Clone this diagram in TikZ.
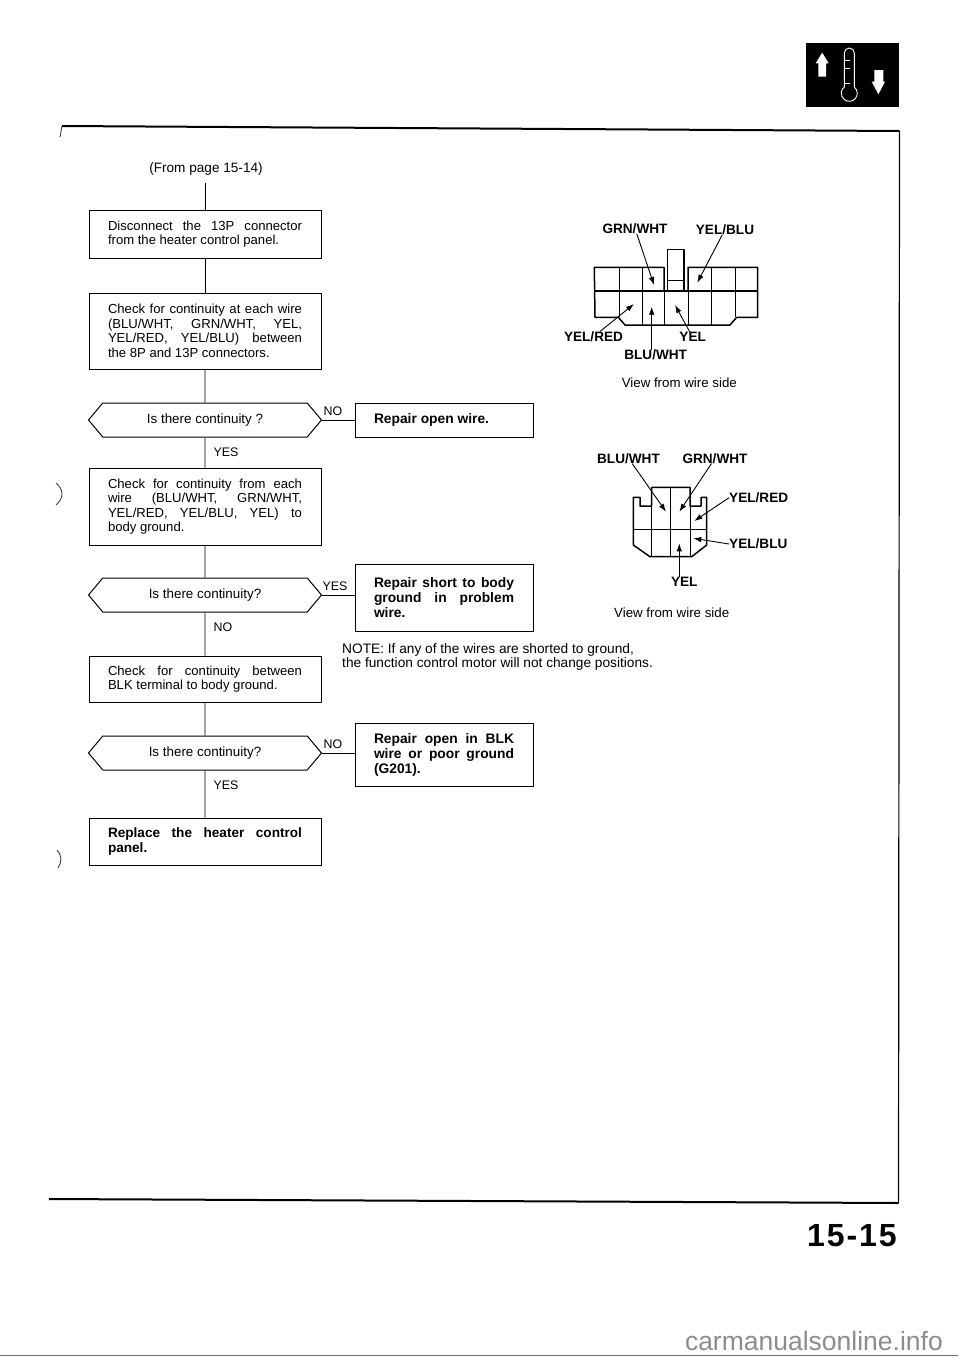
\documentclass[tikz,border=0pt]{standalone}
\usepackage{fontspec}
\setmainfont{Liberation Sans}
\usetikzlibrary{shapes.symbols,arrows.meta}
\tikzset{
  stepbox/.style={draw, line width=1pt, minimum width=232pt, text width=194pt, align=justify, inner sep=0pt, font=\fontsize{13.1}{14.5}\selectfont},
  fixbox/.style={draw, line width=1pt, minimum width=178pt, text width=140pt, align=justify, inner sep=0pt, font=\fontsize{13.8}{15}\selectfont\bfseries},
  decision/.style={draw, line width=1pt, shape=signal, signal to=east and west, signal pointer angle=100, minimum width=233pt, minimum height=34pt, inner sep=0pt, font=\fontsize{13.4}{14}\selectfont},
  answer/.style={inner sep=0pt, font=\fontsize{12.4}{14}\selectfont},
  wirelabel/.style={inner sep=0pt, font=\fontsize{13.6}{14}\selectfont\bfseries},
  viewlabel/.style={inner sep=0pt, font=\fontsize{13.3}{14}\selectfont},
  flow/.style={line width=0.8pt},
  housing/.style={line width=1.5pt, line join=round},
  cavity/.style={line width=0.9pt},
  pinarrow/.style={line width=0.9pt, -{Latex[length=8pt,width=5.5pt]}},
  smudge/.style={line width=0.9pt, black!75}
}
\begin{document}
\begin{tikzpicture}[x=1pt,y=-1pt]
  \useasboundingbox (0,0) rectangle (960,1358);
  % page frame
  \draw[line width=2pt] (62,126) -- (899.5,131);
  \draw[line width=1.2pt] (899.5,131) -- (898.5,1203);
  \draw[line width=2pt] (49,1199) -- (898.5,1203);
  \draw[smudge] (62,126) .. controls (61,130) and (61,133) .. (60,137);
  \draw[smudge] (56,483) .. controls (64,490) and (64,498) .. (56,505);
  \draw[smudge] (57,850) .. controls (62,855) and (62,862) .. (58,868);
  % flow chart
  \node[font=\fontsize{13.6}{14}\selectfont] (source) at (206,168.5) {(From page 15-14)};
  \coordinate (start) at (205,183);
  \node[stepbox, minimum height=48pt] (disconnect) at (205,234) {Disconnect the 13P connector\linebreak from the heater control panel.};
  \node[stepbox, minimum height=76pt] (checkwire) at (205,331) {Check for continuity at each wire\linebreak (BLU/WHT, GRN/WHT, YEL,\linebreak YEL/RED, YEL/BLU) between\linebreak the 8P and 13P connectors.};
  \node[decision] (openq) at (205,420) {Is there continuity ?};
  \node[fixbox, minimum height=34pt] (openfix) at (444,420) {Repair open wire.};
  \node[stepbox, minimum height=77pt] (checkgnd) at (205,506.5) {Check for continuity from each\linebreak wire (BLU/WHT, GRN/WHT,\linebreak YEL/RED, YEL/BLU, YEL) to\linebreak body ground.};
  \node[decision] (shortq) at (205,595) {Is there continuity?};
  \node[fixbox, minimum height=67pt] (shortfix) at (444,597.5) {Repair short to body\linebreak ground in problem\linebreak wire.};
  \node[stepbox, minimum height=46pt] (checkblk) at (205,679) {Check for continuity between\linebreak BLK terminal to body ground.};
  \node[decision] (blkq) at (205,753) {Is there continuity?};
  \node[fixbox, minimum height=63pt] (blkfix) at (444,754.5) {Repair open in BLK\linebreak wire or poor ground\linebreak (G201).};
  \node[stepbox, minimum height=47pt, font=\fontsize{13.6}{14.5}\selectfont\bfseries] (replace) at (205,841.5) {Replace the heater control\linebreak panel.};
  \draw[flow] (start) -- (disconnect);
  \draw[flow] (disconnect) -- (checkwire);
  \draw[flow] (checkwire) -- (openq);
  \draw[flow] (openq) -- (checkgnd);
  \draw[flow] (checkgnd) -- (shortq);
  \draw[flow] (shortq) -- (checkblk);
  \draw[flow] (checkblk) -- (blkq);
  \draw[flow] (blkq) -- (replace);
  \draw[flow] (openq.east) -- (openfix.west |- openq.east);
  \draw[flow] (shortq.east) -- (shortfix.west |- shortq.east);
  \draw[flow] (blkq.east) -- (blkfix.west |- blkq.east);
  \node[answer] (no1) at (333,411) {NO};
  \node[answer] (yes1) at (226,452) {YES};
  \node[answer] (yes2) at (335,586) {YES};
  \node[answer] (no2) at (223,627) {NO};
  \node[answer] (no3) at (333,744) {NO};
  \node[answer] (yes3) at (226,785) {YES};
  \node[viewlabel, anchor=west, font=\fontsize{13.7}{14}\selectfont] (note1) at (342,650) {NOTE: If any of the wires are shorted to ground,};
  \node[viewlabel, anchor=west, font=\fontsize{13.7}{14}\selectfont] (note2) at (342,664) {the function control motor will not change positions.};
  % 13P connector
  \draw[housing] (664,291) -- (664,267.3) -- (594.3,267.3) -- (595,317.3) -- (618.3,317.3) -- (625,325) -- (730,325) -- (736.7,317.3) -- (757.7,317.3) -- (757.7,267.3) -- (688,267.3) -- (688,291);
  \draw[housing] (667.3,291) -- (667.3,249.3) -- (684,249.3) -- (684,291);
  \draw[cavity] (667.3,280) -- (684,280);
  \draw[housing] (594.3,291) -- (757.7,291);
  \foreach \x in {619,642,711.7,735}
    \draw[cavity] (\x,267.3) -- (\x,317.3);
  \foreach \x in {642,664,688,711.7}
    \draw[cavity] (\x,291) -- (\x,325);
  \node[wirelabel] (grnwht) at (635,228.5) {GRN/WHT};
  \node[wirelabel] (yelblu) at (725,229.5) {YEL/BLU};
  \node[wirelabel] (yelred) at (593.5,336.7) {YEL/RED};
  \node[wirelabel] (yel) at (692.7,337.3) {YEL};
  \node[wirelabel] (bluwht) at (655.7,355) {BLU/WHT};
  \node[viewlabel] (view) at (679.3,382.3) {View from wire side};
  \coordinate (grnpin) at (654,285);
  \coordinate (blupin) at (697.3,282.7);
  \coordinate (redpin) at (634,304);
  \coordinate (whtpin) at (651.7,306.7);
  \coordinate (yelpin) at (675,305);
  \draw[pinarrow] (grnwht) -- (grnpin);
  \draw[pinarrow] (yelblu) -- (blupin);
  \draw[pinarrow] (yelred) -- (redpin);
  \draw[pinarrow] (bluwht.north -| whtpin) -- (whtpin);
  \draw[pinarrow] (yel) -- (yelpin);
  % 8P connector
  \draw[housing] (633.3,497.3) -- (633.3,545) -- (650,556.7) -- (691.7,556.7) -- (706.7,545) -- (706.7,497.3) -- (701,497.3) -- (701,506) -- (690,506) -- (690,487.3) -- (651.7,487.3) -- (651.7,506) -- (640,506) -- (640,497.3) -- cycle;
  \draw[cavity] (633.3,529.3) -- (706.7,529.3);
  \draw[cavity] (651.7,506) -- (651.7,556.7);
  \draw[cavity] (670.7,487.3) -- (670.7,556.7);
  \draw[cavity] (690,506) -- (690,556.7);
  \node[wirelabel] (bluwhtb) at (628.5,458.3) {BLU/WHT};
  \node[wirelabel] (grnwhtb) at (715,458.3) {GRN/WHT};
  \node[wirelabel, anchor=west] (yelredb) at (729,497.7) {YEL/RED};
  \node[wirelabel, anchor=west] (yelblub) at (729,544) {YEL/BLU};
  \node[wirelabel] (yelb) at (684.3,581.7) {YEL};
  \node[viewlabel] (viewb) at (671.7,612.3) {View from wire side};
  \coordinate (whtpinb) at (666,511.7);
  \coordinate (grnpinb) at (679.3,511.7);
  \coordinate (redpinb) at (694.3,521);
  \coordinate (blupinb) at (693.3,538.3);
  \coordinate (yelpinb) at (679.3,543.3);
  \draw[pinarrow] (bluwhtb) -- (whtpinb);
  \draw[pinarrow] (grnwhtb) -- (grnpinb);
  \draw[pinarrow] (yelredb.west) -- (redpinb);
  \draw[pinarrow] (yelblub.west) -- (blupinb);
  \draw[pinarrow] (yelb.north -| yelpinb) -- (yelpinb);
  % section icon
  \fill (806,43.3) rectangle (899.3,107.3);
  \fill[white] (818.3,76.7) -- (826,76.7) -- (826,63.3) -- (828.7,63.3) -- (822.2,52.7) -- (815.7,63.3) -- (818.3,63.3) -- cycle;
  \fill[white] (874.3,70) -- (883.3,70) -- (883.3,81.7) -- (885,81.7) -- (878.4,94.3) -- (871.7,81.7) -- (874.3,81.7) -- cycle;
  \draw[white, line width=0.9pt] (844.3,87.1) -- (844.3,53) arc[start angle=180, end angle=360, radius=5] -- (854.3,87.1) arc[start angle=-51, end angle=231, radius=8];
  \foreach \y in {60,68,83}
    \draw[white, line width=0.7pt] (844.3,\y) -- (850.3,\y);
  % page number
  \node[inner sep=0pt, font=\fontsize{32}{34}\selectfont\bfseries\addfontfeatures{LetterSpace=6}] (pageno) at (852,1236) {15-15};
  % footer
  \node[inner sep=0pt, anchor=east, text=black!45, font=\fontsize{26.5}{28}\selectfont] (site) at (943,1341) {carmanualsonline.info};
  \draw[black!55, line width=0.8pt] (0,1355.5) -- (958,1355.5);
\end{tikzpicture}
\end{document}
